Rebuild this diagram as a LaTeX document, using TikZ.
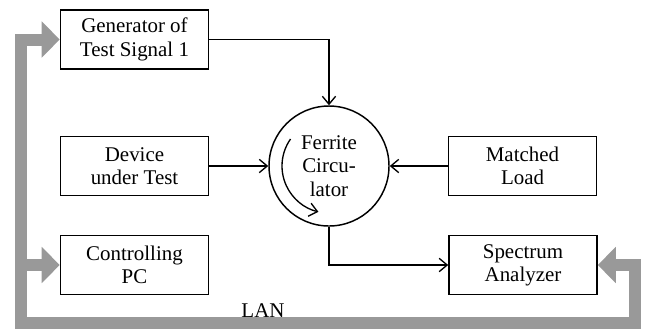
\documentclass[tikz,border=0pt]{standalone}
\usepackage{fontspec}
\setmainfont{Liberation Serif}
\usetikzlibrary{arrows.meta}

\definecolor{langray}{RGB}{153,153,153}

\begin{document}
\begin{tikzpicture}[x=0.75pt,y=0.75pt,yscale=-1,xscale=1,
  font=\fontsize{15.7}{17.5}\selectfont,
  box/.style={draw, line width=1.2pt, minimum width=111pt, minimum height=44.5pt, inner sep=1pt, align=center},
  circ/.style={draw, circle, line width=1.1pt, minimum size=90pt, inner sep=0pt, align=center},
  sig/.style={line width=1pt, -{Straight Barb[length=6pt,width=10pt,line width=1pt]}},
  lanline/.style={draw=langray, line width=9pt, line join=miter},
  lantip/.style={-{Triangle[length=13.5pt 0 0,width=26.5pt 0 0]}}]
\useasboundingbox (0,0) rectangle (649,330);

%Blocks
\node [box] (gen) at (134.5,39.5) {Generator of\\Test Signal 1};
\node [box] (dut) at (134.5,166) {Device\\under Test};
\node [box] (pc) at (134.5,265) {Controlling\\PC};
\node [box] (ml) at (522.5,166) {Matched\\Load};
\node [box] (sa) at (523,265) {Spectrum\\Analyzer};

%Circulator
\node [circ] (fc) at (329,166) {Ferrite\\Circu-\\lator};
\draw [line width=1pt, -{Straight Barb[length=6pt,width=10pt,line width=1pt]}] ([shift={(215:47)}]fc.center) arc [start angle=215, end angle=103, radius=47];

%Signal lines
\draw [sig] (gen.east) -| (fc.north);
\draw [sig] (dut.east) -- (fc.west);
\draw [sig] (ml.west) -- (fc.east);
\draw [sig] (fc.south) |- (sa.west);

%LAN
\coordinate (lanL) at (21,323);
\coordinate (lanR) at (635,265);
\coordinate (lanpc) at (lanL |- pc.west);
\draw [lanline, {Triangle[length=13.5pt 0 0,width=26.5pt 0 0]}-{Triangle[length=13.5pt 0 0,width=26.5pt 0 0]}] (gen.west) -| (lanL) -| (lanR) -- (sa.east);
\draw [lanline, lantip] (lanpc) -- (pc.west);

% Text Node
\node (lan) at (263,311) {LAN};

\end{tikzpicture}
\end{document}
